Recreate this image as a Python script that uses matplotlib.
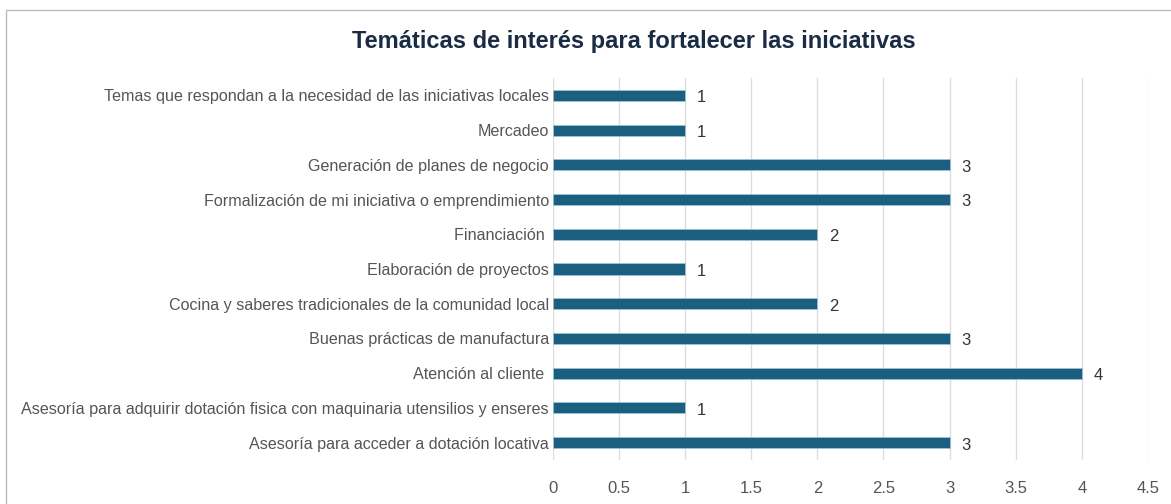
import matplotlib.pyplot as plt
import matplotlib.patches as mpatches
import numpy as np

plt.rcParams['font.family'] = ['Liberation Sans', 'DejaVu Sans']

# datos (de abajo hacia arriba)
temas = [
    'Asesoría para acceder a dotación locativa',
    'Asesoría para adquirir dotación fisica con maquinaria utensilios y enseres',
    'Atención al cliente ',
    'Buenas prácticas de manufactura',
    'Cocina y saberes tradicionales de la comunidad local',
    'Elaboración de proyectos',
    'Financiación ',
    'Formalización de mi iniciativa o emprendimiento',
    'Generación de planes de negocio',
    'Mercadeo',
    'Temas que respondan a la necesidad de las iniciativas locales',
]
valores = [3, 1, 4, 3, 2, 1, 2, 3, 3, 1, 1]
ticks_x = [0, 0.5, 1, 1.5, 2, 2.5, 3, 3.5, 4, 4.5]

bar_color = '#1a5f80'

fig = plt.figure(figsize=(11.71, 5.04), dpi=100)
ax = fig.add_axes([0.4722, 0.0873, 0.5081, 0.7579])

y = np.arange(len(temas))
ax.barh(y, valores, height=0.32, color=bar_color, edgecolor='#9cc3d5', linewidth=0.6, zorder=3)

# etiquetas de valor
for yi, v in zip(y, valores):
    ax.text(v + 0.09, yi - 0.07, str(v), va='center', ha='left', fontsize=12, color='#333333')

ax.set_yticks(y)
ax.set_yticklabels(temas, fontsize=11.6, color='#555555')
ax.set_xticks(ticks_x)
ax.set_xticklabels([f'{t:g}' for t in ticks_x], fontsize=12, color='#555555')
ax.set_xlim(0, 4.5)
ax.set_ylim(-0.5, 10.5)

ax.tick_params(axis='y', length=0, pad=3)
ax.tick_params(axis='x', length=0, pad=15)
for s in ax.spines.values():
    s.set_visible(False)
ax.grid(True, axis='x', color='#dddddd', linewidth=1, zorder=0)
ax.set_axisbelow(True)

fig.text(0.5415, 0.918, 'Temáticas de interés para fortalecer las iniciativas',
         ha='center', va='center', fontsize=17, fontweight='bold', color='#1a2b44')

# marco
frame = mpatches.Rectangle((0.005, -0.1), 1.2, 1.08, transform=fig.transFigure,
                           fill=False, edgecolor='#bbbbbb', linewidth=1)
fig.patches.append(frame)

fig.savefig('out.png', dpi=100)
